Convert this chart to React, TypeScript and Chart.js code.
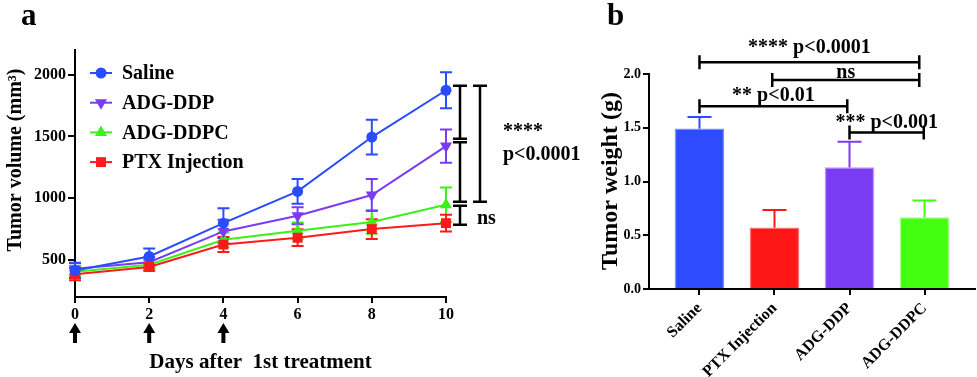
import React, { useEffect, useRef } from "react";
import { Chart, registerables } from "chart.js";

Chart.register(...registerables);

const FONT = "'Liberation Serif', 'Times New Roman', serif";

// ---------- Panel a data ----------
const days = [0, 2, 4, 6, 8, 10];
const salineVolume = [415, 528, 798, 1055, 1495, 1874];
const salineError = [62, 65, 120, 100, 141, 145];
const ddpVolume = [428, 481, 731, 858, 1026, 1422];
const ddpError = [45, 40, 95, 68, 130, 135];
const ddpcVolume = [405, 462, 663, 736, 808, 947];
const ddpcError = [40, 35, 60, 68, 96, 140];
const ptxVolume = [385, 443, 625, 680, 750, 798];
const ptxError = [50, 30, 60, 68, 80, 68];
const volumeTicks = [500, 1000, 1500, 2000];
const treatmentDays = [0, 2, 4];
const volumeLabels = ["Saline", "ADG-DDP", "ADG-DDPC", "PTX Injection"];
// significance brackets (volume units)
const innerBrackets = [
  [1910, 1481],
  [1454, 972],
  [939, 785],
];
const outerBracket = [1910, 972];

// ---------- Panel b data ----------
const groups = ["Saline", "PTX Injection", "ADG-DDP", "ADG-DDPC"];
const weights = [1.49, 0.57, 1.13, 0.665];
const weightErrors = [0.11, 0.165, 0.24, 0.158];
const weightTicks = [0, 0.5, 1.0, 1.5, 2.0];
const weightBrackets = [
  { from: 0, to: 2.93, y: 2.11, text: "**** p<0.0001", lift: 9 },
  { from: 0.97, to: 2.93, y: 1.945, text: "ns", lift: 2 },
  { from: 0, to: 1.97, y: 1.7, text: "** p<0.01", lift: 5 },
  { from: 2, to: 2.99, y: 1.455, text: "*** p<0.001", lift: 5 },
];

// ---------- styles ----------
const lineStyles = [
  { color: "#2a4cff", shape: "circle", radius: 5.5, order: 0 },
  { color: "#7a3cf0", shape: "down", radius: 7, order: 2 },
  { color: "#3cf01a", shape: "up", radius: 7, order: 3 },
  { color: "#ff1a1a", shape: "rect", radius: 7, order: 1 },
];
const barFill = ["#2e4bff", "#ff1616", "#7a3cf2", "#44ff10"];
const barEdge = ["#7d8fff", "#ff7070", "#b896ff", "#9dff80"];

const volumeSeries = [salineVolume, ddpVolume, ddpcVolume, ptxVolume];
const volumeErrors = [salineError, ddpError, ddpcError, ptxError];

function drawMarker(ctx: CanvasRenderingContext2D, shape: string, x: number, y: number, r: number, color: string) {
  ctx.save();
  ctx.fillStyle = color;
  ctx.beginPath();
  if (shape === "circle") {
    ctx.arc(x, y, r, 0, Math.PI * 2);
  } else if (shape === "rect") {
    const s = r * Math.SQRT1_2;
    ctx.rect(x - s, y - s, 2 * s, 2 * s);
  } else if (shape === "down") {
    const h = r * Math.sin(Math.PI / 3);
    ctx.moveTo(x, y + r);
    ctx.lineTo(x - h, y - r / 2);
    ctx.lineTo(x + h, y - r / 2);
    ctx.closePath();
  } else {
    const h = r * Math.sin(Math.PI / 3);
    ctx.moveTo(x, y - r);
    ctx.lineTo(x - h, y + r / 2);
    ctx.lineTo(x + h, y + r / 2);
    ctx.closePath();
  }
  ctx.fill();
  ctx.restore();
}

const panelAPlugin = {
  id: "panelA",
  beforeDatasetsDraw(chart: any) {
    const ctx = chart.ctx as CanvasRenderingContext2D;
    const xs = chart.scales.x;
    const ys = chart.scales.y;
    ctx.save();
    ctx.lineWidth = 2;
    [2, 1, 3, 0].forEach((si) => {
      ctx.strokeStyle = lineStyles[si].color;
      volumeSeries[si].forEach((v, j) => {
        const x = xs.getPixelForValue(days[j]);
        const yt = ys.getPixelForValue(v + volumeErrors[si][j]);
        const yb = ys.getPixelForValue(v - volumeErrors[si][j]);
        ctx.beginPath();
        ctx.moveTo(x, yt);
        ctx.lineTo(x, yb);
        ctx.moveTo(x - 6, yt);
        ctx.lineTo(x + 6, yt);
        ctx.moveTo(x - 6, yb);
        ctx.lineTo(x + 6, yb);
        ctx.stroke();
      });
    });
    ctx.restore();
  },
  afterDraw(chart: any) {
    const ctx = chart.ctx as CanvasRenderingContext2D;
    const xs = chart.scales.x;
    const ys = chart.scales.y;
    const area = chart.chartArea;
    ctx.save();
    // panel letter
    ctx.fillStyle = "#000";
    ctx.font = `bold 31px ${FONT}`;
    ctx.textAlign = "left";
    ctx.textBaseline = "alphabetic";
    ctx.fillText("a", 21, 25);
    // y title
    ctx.save();
    ctx.translate(16, 160);
    ctx.rotate(-Math.PI / 2);
    ctx.textAlign = "center";
    ctx.textBaseline = "middle";
    ctx.font = `bold 20px ${FONT}`;
    ctx.fillText("Tumor volume (mm³)", 0, 0);
    ctx.restore();
    // x title
    ctx.textAlign = "center";
    ctx.textBaseline = "alphabetic";
    ctx.font = `bold 21px ${FONT}`;
    ctx.fillText("Days after  1st treatment", (area.left + area.right) / 2, 368);
    // treatment arrows
    treatmentDays.forEach((d) => {
      const x = xs.getPixelForValue(d);
      const top = area.bottom + 26;
      ctx.beginPath();
      ctx.moveTo(x, top);
      ctx.lineTo(x - 6, top + 10);
      ctx.lineTo(x + 6, top + 10);
      ctx.closePath();
      ctx.fill();
      ctx.fillRect(x - 2, top + 9, 4, 11);
    });
    // legend
    ctx.font = `bold 20px ${FONT}`;
    ctx.textAlign = "left";
    ctx.textBaseline = "middle";
    volumeLabels.forEach((lab, i) => {
      const y = area.top + 23 + i * 29.7;
      const st = lineStyles[i];
      ctx.strokeStyle = st.color;
      ctx.lineWidth = 2;
      ctx.beginPath();
      ctx.moveTo(area.left + 15, y);
      ctx.lineTo(area.left + 37, y);
      ctx.stroke();
      drawMarker(ctx, st.shape, area.left + 26, y, st.radius, st.color);
      ctx.fillStyle = "#000";
      ctx.fillText(lab, area.left + 47, y + 1);
    });
    // brackets
    ctx.strokeStyle = "#000";
    ctx.lineWidth = 2.5;
    const bracket = (x: number, v1: number, v2: number) => {
      const y1 = ys.getPixelForValue(v1);
      const y2 = ys.getPixelForValue(v2);
      ctx.beginPath();
      ctx.moveTo(x, y1);
      ctx.lineTo(x, y2);
      ctx.moveTo(x - 7, y1);
      ctx.lineTo(x + 7, y1);
      ctx.moveTo(x - 7, y2);
      ctx.lineTo(x + 7, y2);
      ctx.stroke();
    };
    innerBrackets.forEach(([a, b]) => bracket(area.right + 14, a, b));
    bracket(area.right + 34, outerBracket[0], outerBracket[1]);
    ctx.fillStyle = "#000";
    ctx.textAlign = "left";
    ctx.textBaseline = "alphabetic";
    ctx.font = `bold 20px ${FONT}`;
    ctx.fillText("****", area.right + 57, 137);
    ctx.fillText("p<0.0001", area.right + 57, 160);
    ctx.fillText("ns", area.right + 31, 224);
    ctx.restore();
  },
};

const panelBPlugin = {
  id: "panelB",
  afterDatasetsDraw(chart: any) {
    const ctx = chart.ctx as CanvasRenderingContext2D;
    const xs = chart.scales.x;
    const ys = chart.scales.y;
    ctx.save();
    ctx.lineWidth = 2;
    weights.forEach((w, i) => {
      const x = xs.getPixelForValue(i);
      const y0 = ys.getPixelForValue(w);
      const y1 = ys.getPixelForValue(w + weightErrors[i]);
      ctx.strokeStyle = barFill[i];
      ctx.beginPath();
      ctx.moveTo(x, y0);
      ctx.lineTo(x, y1);
      ctx.moveTo(x - 12, y1);
      ctx.lineTo(x + 12, y1);
      ctx.stroke();
    });
    ctx.restore();
  },
  afterDraw(chart: any) {
    const ctx = chart.ctx as CanvasRenderingContext2D;
    const xs = chart.scales.x;
    const ys = chart.scales.y;
    ctx.save();
    ctx.fillStyle = "#000";
    ctx.font = `bold 31px ${FONT}`;
    ctx.textAlign = "left";
    ctx.textBaseline = "alphabetic";
    ctx.fillText("b", 17, 25);
    // y title
    ctx.save();
    ctx.translate(21, 181);
    ctx.rotate(-Math.PI / 2);
    ctx.textAlign = "center";
    ctx.textBaseline = "middle";
    ctx.font = `bold 24px ${FONT}`;
    ctx.fillText("Tumor weight (g)", 0, 0);
    ctx.restore();
    // brackets
    ctx.strokeStyle = "#000";
    ctx.lineWidth = 2.5;
    ctx.font = `bold 20px ${FONT}`;
    ctx.textAlign = "center";
    weightBrackets.forEach((b) => {
      const x1 = xs.getPixelForValue(b.from);
      const x2 = xs.getPixelForValue(b.to);
      const y = ys.getPixelForValue(b.y);
      ctx.beginPath();
      ctx.moveTo(x1, y);
      ctx.lineTo(x2, y);
      ctx.moveTo(x1, y - 7);
      ctx.lineTo(x1, y + 7);
      ctx.moveTo(x2, y - 7);
      ctx.lineTo(x2, y + 7);
      ctx.stroke();
      ctx.fillText(b.text, (x1 + x2) / 2, y - b.lift);
    });
    ctx.restore();
  },
};

function VolumeChart() {
  const ref = useRef<HTMLCanvasElement>(null);
  useEffect(() => {
    if (!ref.current) return;
    const tickFont = { family: FONT, size: 16, weight: "bold" as const };
    const chart = new Chart(ref.current, {
      type: "line",
      data: {
        datasets: volumeSeries.map((vals, i) => ({
          label: volumeLabels[i],
          data: days.map((d, j) => ({ x: d, y: vals[j] })),
          borderColor: lineStyles[i].color,
          backgroundColor: lineStyles[i].color,
          pointBackgroundColor: lineStyles[i].color,
          pointBorderColor: lineStyles[i].color,
          pointBorderWidth: 0,
          pointStyle: lineStyles[i].shape === "circle" ? "circle" : lineStyles[i].shape === "rect" ? "rect" : "triangle",
          rotation: lineStyles[i].shape === "down" ? 180 : 0,
          pointRadius: lineStyles[i].radius,
          borderWidth: 2,
          tension: 0,
          order: lineStyles[i].order,
          clip: false as any,
        })),
      },
      options: {
        responsive: false,
        animation: false,
        layout: { padding: { top: 50, right: 144, left: 0, bottom: 0 } },
        plugins: { legend: { display: false }, tooltip: { enabled: false } },
        scales: {
          x: {
            type: "linear",
            min: 0,
            max: 10,
            afterFit: (s: any) => {
              s.height = 80;
            },
            afterBuildTicks: (s: any) => {
              s.ticks = days.map((v) => ({ value: v }));
            },
            ticks: { color: "#000", font: tickFont, padding: 2, callback: (v: any) => String(v) },
            grid: { drawOnChartArea: false, tickLength: 6, color: "#000", lineWidth: 2 },
            border: { color: "#000", width: 2 },
          },
          y: {
            type: "linear",
            min: 200,
            max: 2200,
            afterFit: (s: any) => {
              s.width = 75;
            },
            afterBuildTicks: (s: any) => {
              s.ticks = volumeTicks.map((v) => ({ value: v }));
            },
            ticks: { color: "#000", font: tickFont, padding: 2, callback: (v: any) => String(v) },
            grid: { drawOnChartArea: false, tickLength: 7, color: "#000", lineWidth: 2 },
            border: { color: "#000", width: 2 },
          },
        },
      },
      plugins: [panelAPlugin],
    } as any);
    return () => chart.destroy();
  }, []);
  return <canvas ref={ref} width={590} height={377} style={{ position: "absolute", left: 0, top: 0 }} />;
}

function WeightChart() {
  const ref = useRef<HTMLCanvasElement>(null);
  useEffect(() => {
    if (!ref.current) return;
    const chart = new Chart(ref.current, {
      type: "bar",
      data: {
        datasets: [
          {
            data: groups.map((g, i) => ({ x: i, y: weights[i] })),
            backgroundColor: barFill,
            borderColor: barEdge,
            borderWidth: 1.5,
            barThickness: 49,
          },
        ],
      },
      options: {
        responsive: false,
        animation: false,
        layout: { padding: { top: 74, right: 2, left: 0, bottom: 0 } },
        plugins: { legend: { display: false }, tooltip: { enabled: false } },
        scales: {
          x: {
            type: "linear",
            min: -0.673,
            max: 3.673,
            offset: false,
            afterFit: (s: any) => {
              s.height = 88;
            },
            afterBuildTicks: (s: any) => {
              s.ticks = groups.map((_, i) => ({ value: i }));
            },
            ticks: {
              color: "#000",
              font: { family: FONT, size: 16, weight: "bold" },
              padding: 4,
              minRotation: 45,
              maxRotation: 45,
              autoSkip: false,
              callback: (v: any) => groups[Math.round(v)],
            },
            grid: { drawOnChartArea: false, offset: false, tickLength: 6, color: "#000", lineWidth: 2 },
            border: { color: "#000", width: 2 },
          },
          y: {
            type: "linear",
            min: 0,
            max: 2,
            afterFit: (s: any) => {
              s.width = 59;
            },
            afterBuildTicks: (s: any) => {
              s.ticks = weightTicks.map((v) => ({ value: v }));
            },
            ticks: {
              color: "#000",
              font: { family: FONT, size: 14, weight: "bold" },
              padding: 2,
              callback: (v: any) => Number(v).toFixed(1),
            },
            grid: { drawOnChartArea: false, tickLength: 6, color: "#000", lineWidth: 2 },
            border: { color: "#000", width: 2 },
          },
        },
      },
      plugins: [panelBPlugin],
    } as any);
    return () => chart.destroy();
  }, []);
  return <canvas ref={ref} width={387} height={377} style={{ position: "absolute", left: 590, top: 0 }} />;
}

export default function App() {
  return (
    <div style={{ position: "fixed", left: 0, top: 0, width: 977, height: 377, background: "#fff", overflow: "hidden" }}>
      <VolumeChart />
      <WeightChart />
    </div>
  );
}
